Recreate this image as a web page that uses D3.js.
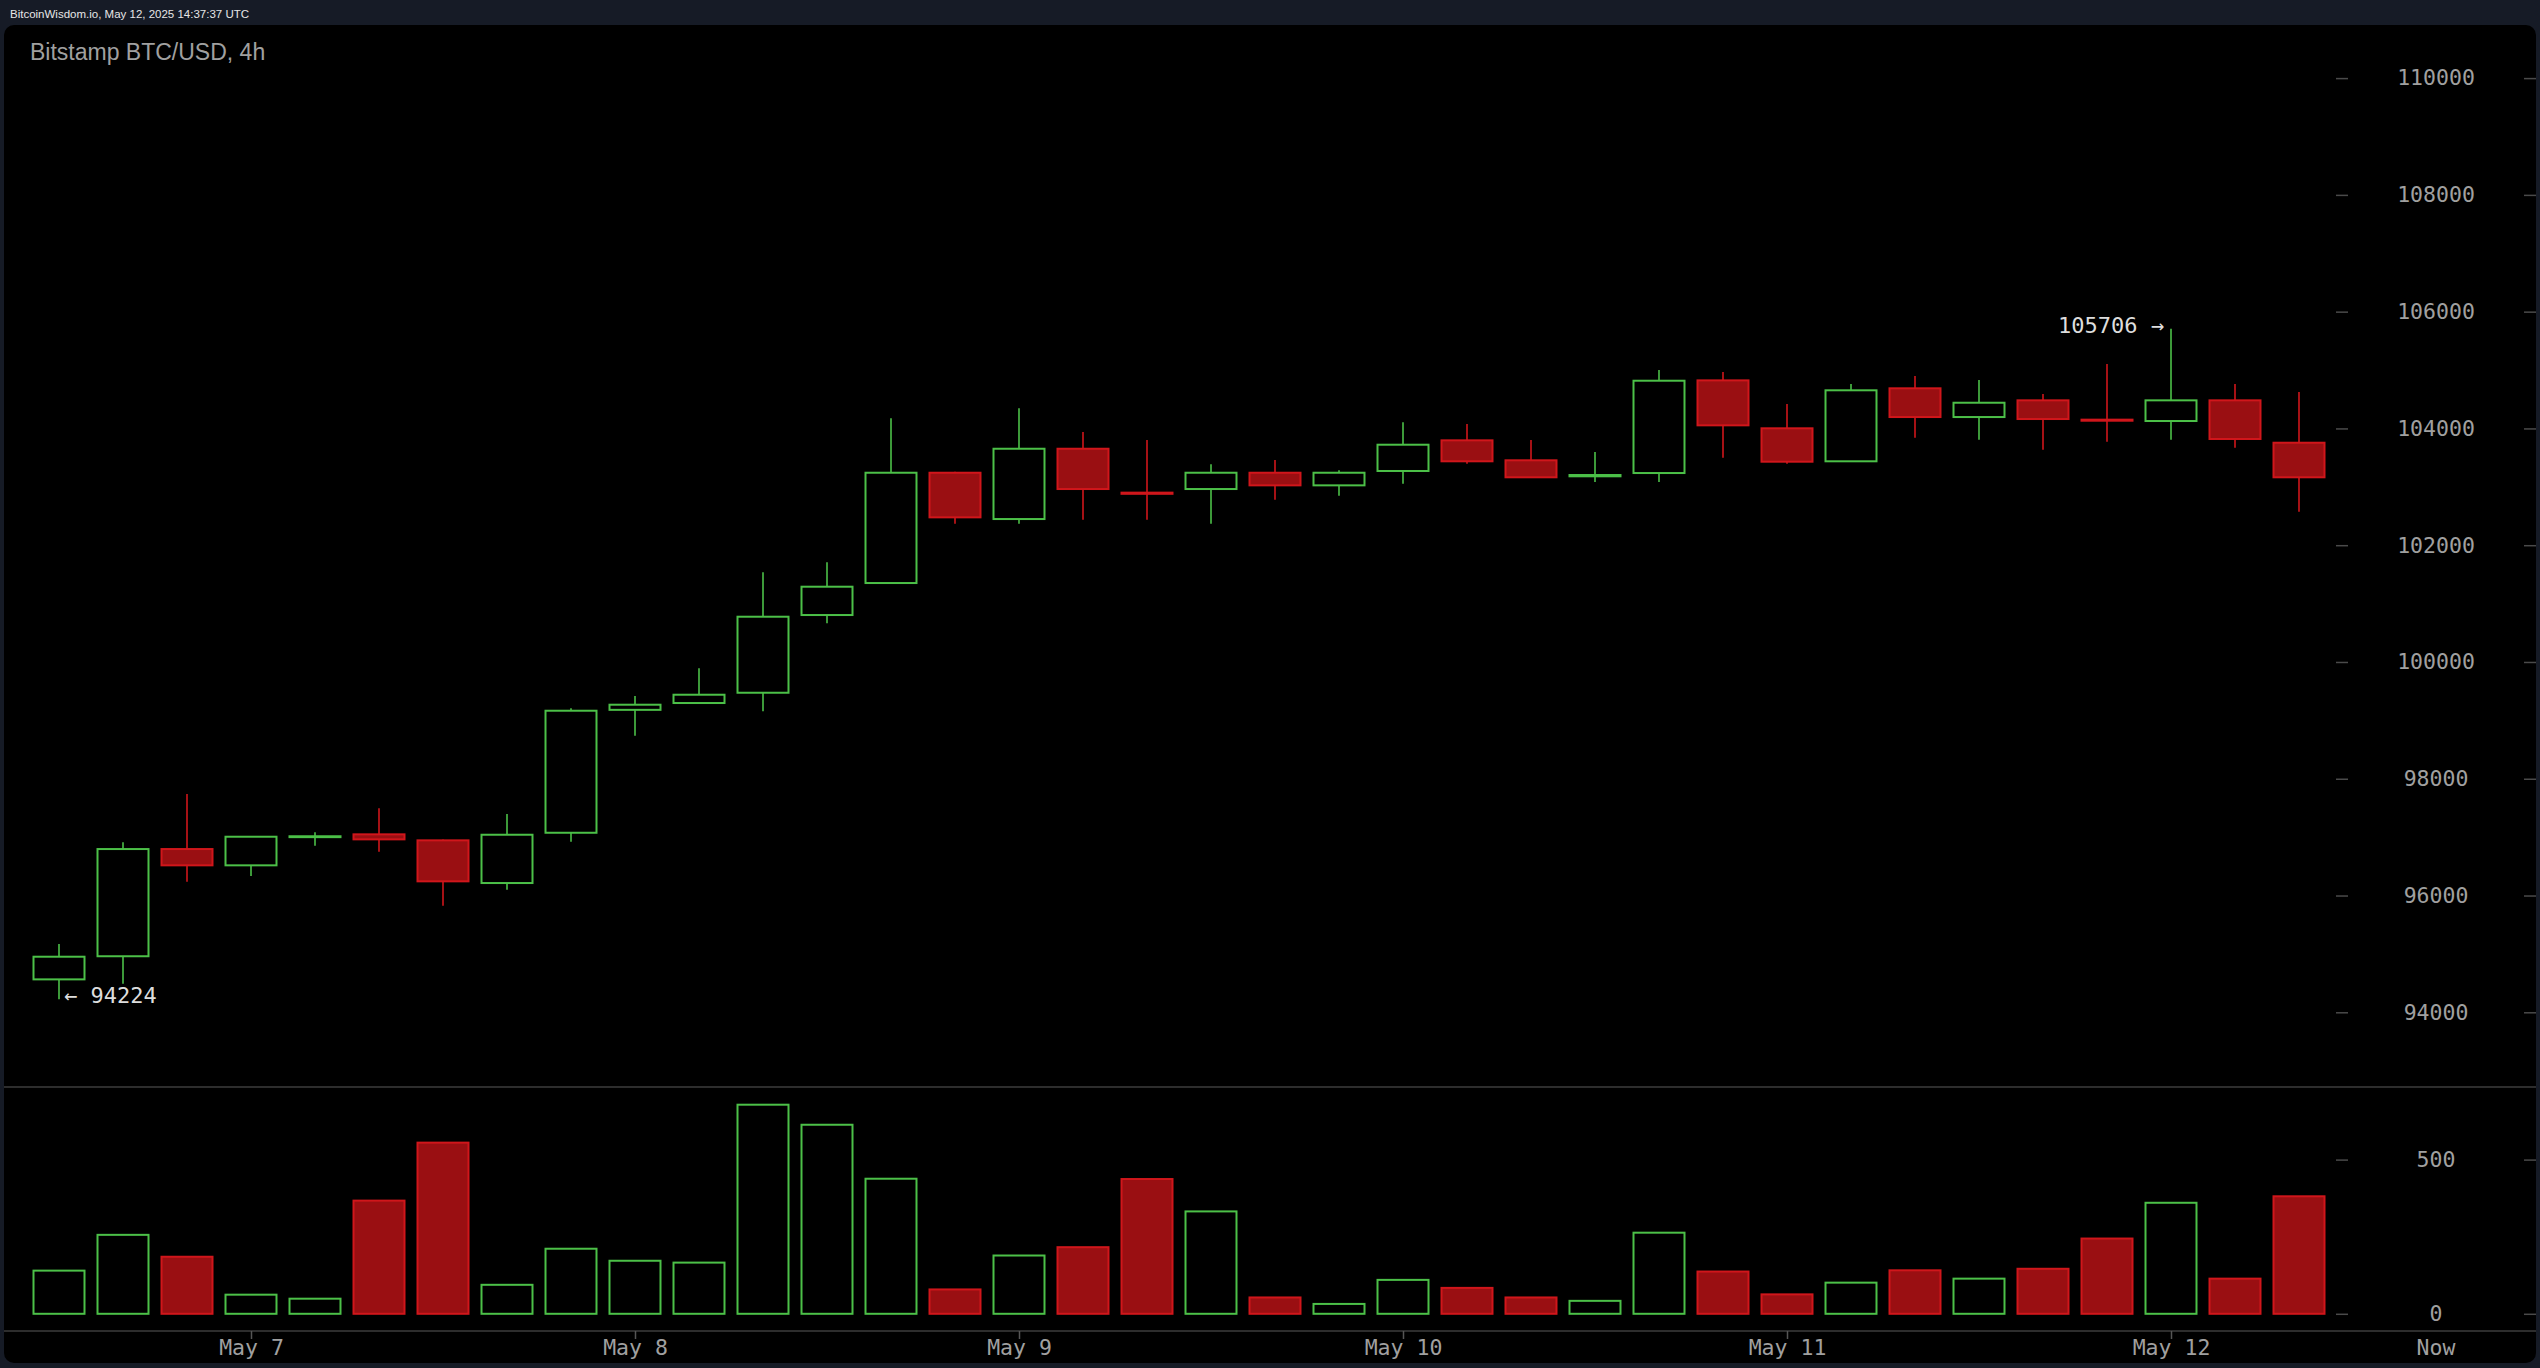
<!DOCTYPE html>
<html><head><meta charset="utf-8">
<script src="https://cdn.jsdelivr.net/npm/d3@7"></script>
<style>html,body{margin:0;padding:0;background:#161b26;overflow:hidden}</style>
</head><body>
<svg id="chart" width="2540" height="1368"></svg>
<script>
// ---- data ----
const candleTimes = [
  "2025-05-06T12:00Z","2025-05-06T16:00Z","2025-05-06T20:00Z",
  "2025-05-07T00:00Z","2025-05-07T04:00Z","2025-05-07T08:00Z","2025-05-07T12:00Z","2025-05-07T16:00Z","2025-05-07T20:00Z",
  "2025-05-08T00:00Z","2025-05-08T04:00Z","2025-05-08T08:00Z","2025-05-08T12:00Z","2025-05-08T16:00Z","2025-05-08T20:00Z",
  "2025-05-09T00:00Z","2025-05-09T04:00Z","2025-05-09T08:00Z","2025-05-09T12:00Z","2025-05-09T16:00Z","2025-05-09T20:00Z",
  "2025-05-10T00:00Z","2025-05-10T04:00Z","2025-05-10T08:00Z","2025-05-10T12:00Z","2025-05-10T16:00Z","2025-05-10T20:00Z",
  "2025-05-11T00:00Z","2025-05-11T04:00Z","2025-05-11T08:00Z","2025-05-11T12:00Z","2025-05-11T16:00Z","2025-05-11T20:00Z",
  "2025-05-12T00:00Z","2025-05-12T04:00Z","2025-05-12T08:00Z"
];
const opens  = [94564,94960,96796,96517,97000,97048,96945,96214,97075,99180,99297,99473,100804,101352,103241,102448,103652,102900,102962,103241,103025,103271,103796,103454,103180,103236,104823,104002,103437,104687,104195,104481,104150,104127,104481,103755];
const highs  = [95169,96911,97738,97010,97082,97493,96960,97396,99206,99417,99891,101535,101707,104173,103260,104344,103938,103801,103385,103459,103282,104105,104076,103801,103596,105000,104966,104418,104761,104898,104829,104589,105103,105706,104761,104624];
const lows   = [94224,94489,96236,96334,96853,96750,95825,96099,96921,98737,99290,99155,100662,101340,102368,102368,102436,102436,102368,102779,102848,103053,103397,103150,103082,103082,103498,103397,103430,103841,103807,103635,103772,103807,103670,102573];
const closes = [94952,96796,96517,97007,97015,96962,96243,97041,99165,99268,99439,100775,101289,103241,102477,103652,102962,102880,103241,103025,103241,103721,103437,103163,103202,104817,104053,103430,104653,104195,104440,104161,104132,104481,103819,103163];
const volumes = [140,256,185,62,49,367,555,94,211,172,166,678,613,438,79,189,216,437,332,53,32,110,84,53,42,263,137,63,101,141,114,146,244,360,114,381];
const priceTicks = [94000,96000,98000,100000,102000,104000,106000,108000,110000];
const volumeTicks = [0,500];
const dayTicks = ["2025-05-07T00:00Z","2025-05-08T00:00Z","2025-05-09T00:00Z","2025-05-10T00:00Z","2025-05-11T00:00Z","2025-05-12T00:00Z"];
const headerText = "BitcoinWisdom.io, May 12, 2025 14:37:37 UTC";
const titleText = "Bitstamp BTC/USD, 4h";

// ---- setup ----
const GREEN = "#4cc048", RED_STROKE = "#d0161b", RED_FILL = "#9a0f12";
const MONO = "'DejaVu Sans Mono', monospace";
const svg = d3.select("#chart");
const times = candleTimes.map(s => new Date(s));
const data = times.map((t,i) => ({t, o:opens[i], h:highs[i], l:lows[i], c:closes[i], v:volumes[i]}));

const x = d3.scaleUtc().domain([times[0], times[times.length-1]]).range([59, 2299]);
const y = d3.scaleLinear().domain([94000,110000]).range([1012.3, 78.1]);
const yv = d3.scaleLinear().domain([0,500]).range([1313.8, 1159.6]);
const BW = 51;

// background panel
svg.append("rect").attr("x",0).attr("y",0).attr("width",2540).attr("height",1368).attr("fill","#161b26");
svg.append("rect").attr("x",4).attr("y",25).attr("width",2532).attr("height",1338).attr("rx",10).attr("fill","#000");

svg.append("text").attr("x",10).attr("y",18).attr("font-family","'Liberation Sans', Arial, sans-serif")
  .attr("font-size",11.5).attr("fill","#e6e6e6").text(headerText);
svg.append("text").attr("x",30).attr("y",60).attr("font-family","'Liberation Sans', Arial, sans-serif")
  .attr("font-size",23).attr("fill","#a0a0a0").text(titleText);

// separators
[1087, 1331].forEach(yy => svg.append("line").attr("x1",4).attr("x2",2536).attr("y1",yy).attr("y2",yy)
  .attr("stroke","#3c3c3c").attr("stroke-width",1.5));

// ---- candles ----
const isUp = d => d.c >= d.o;
const cg = svg.append("g");
cg.selectAll("line.wick").data(data).join("line").attr("class","wick")
  .attr("x1", d => x(d.t)).attr("x2", d => x(d.t))
  .attr("y1", d => y(d.h)).attr("y2", d => y(d.l))
  .attr("stroke", d => isUp(d) ? GREEN : RED_STROKE).attr("stroke-width",1.6);
cg.selectAll("rect.body").data(data).join("rect").attr("class","body")
  .attr("x", d => x(d.t) - BW/2).attr("width", BW)
  .attr("y", d => y(Math.max(d.o,d.c)))
  .attr("height", d => Math.max(0.5, Math.abs(y(d.o) - y(d.c))))
  .attr("fill", d => isUp(d) ? "#000" : RED_FILL)
  .attr("stroke", d => isUp(d) ? GREEN : RED_STROKE).attr("stroke-width",2);

// ---- volume ----
svg.append("g").selectAll("rect").data(data).join("rect")
  .attr("x", d => x(d.t) - BW/2).attr("width", BW)
  .attr("y", d => yv(d.v)).attr("height", d => yv(0) - yv(d.v))
  .attr("fill", d => isUp(d) ? "#000" : RED_FILL)
  .attr("stroke", d => isUp(d) ? GREEN : RED_STROKE).attr("stroke-width",2);

// ---- axes ----
function styleRightAxis(g){
  g.select(".domain").remove();
  g.attr("font-family", MONO).attr("font-size", 21.5);
  g.selectAll(".tick line").attr("stroke","#4a4a4a").attr("stroke-width",1.5);
  g.selectAll(".tick text").attr("x",100).attr("text-anchor","middle").attr("fill","#a0a0a0");
  g.selectAll(".tick").append("line").attr("x1",188).attr("x2",200).attr("stroke","#4a4a4a").attr("stroke-width",1.5);
}
svg.append("g").attr("transform","translate(2336,0)")
  .call(d3.axisRight(y).tickValues(priceTicks).tickSize(12).tickFormat(d3.format("d"))).call(styleRightAxis);
svg.append("g").attr("transform","translate(2336,0)")
  .call(d3.axisRight(yv).tickValues(volumeTicks).tickSize(12).tickFormat(d3.format("d"))).call(styleRightAxis);

const gx = svg.append("g").attr("transform","translate(0,1331)")
  .call(d3.axisBottom(x).tickValues(dayTicks.map(s => new Date(s))).tickSize(8).tickFormat(d3.utcFormat("%b %-d")));
gx.select(".domain").remove();
gx.attr("font-family", MONO).attr("font-size", 21.5);
gx.selectAll(".tick line").attr("stroke","#555").attr("stroke-width",1.5);
gx.selectAll(".tick text").attr("y",9).attr("fill","#a0a0a0");
svg.append("text").attr("x",2436).attr("y",1355).attr("text-anchor","middle")
  .attr("font-family",MONO).attr("font-size",21.5).attr("fill","#a0a0a0").text("Now");

// ---- high / low annotations ----
const lowD = data.reduce((a,b) => b.l < a.l ? b : a);
const highD = data.reduce((a,b) => b.h > a.h ? b : a);
svg.append("text").attr("x", x(lowD.t)+5).attr("y", y(lowD.l)).attr("dy","0.18em")
  .attr("font-family",MONO).attr("font-size",22).attr("fill","#dddddd").text("\u2190 " + lowD.l);
svg.append("text").attr("x", x(highD.t)-7).attr("y", y(highD.h)).attr("dy","0.2em").attr("text-anchor","end")
  .attr("font-family",MONO).attr("font-size",22).attr("fill","#dddddd").text(highD.h + " \u2192");
</script>
</body></html>
